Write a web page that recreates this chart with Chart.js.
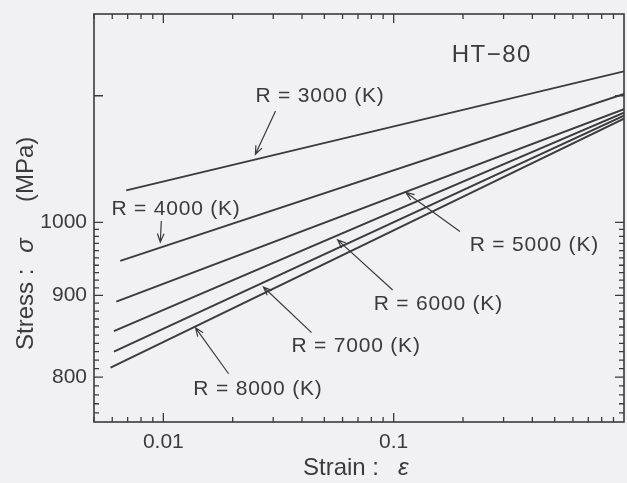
<!DOCTYPE html>
<html lang="en">
<head>
<meta charset="UTF-8">
<title>HT-80 stress-strain</title>
<script src="https://cdn.jsdelivr.net/npm/chart.js"></script>
<style>
  body { margin: 0; background: #f1f1f3; }
  canvas { display: block; }
</style>
</head>
<body>
<canvas id="ssChart" width="627" height="483"></canvas>
<script>
// curves: straight lines on log-log axes, one per R value
const seriesNames = ['R = 3000 (K)', 'R = 4000 (K)', 'R = 5000 (K)', 'R = 6000 (K)', 'R = 7000 (K)', 'R = 8000 (K)'];
const strainStart = [0.0069, 0.0065, 0.00625, 0.0061, 0.0061, 0.0059];
const stressStart = [1047, 946, 892, 855, 830, 811];
const strainEnd = [1, 1, 1, 1, 1, 1];
const stressEnd = [1243, 1203, 1177, 1171, 1166, 1161];

// callout text and arrows (data coordinates)
const labelStrain = [0.0251, 0.00595, 0.214, 0.0819, 0.036, 0.0135];
const labelStress = [1189, 1011, 960, 881, 830, 780];
const arrowTipStrain = [0.0251, 0.0097, 0.113, 0.0571, 0.0272, 0.0138];
const arrowTipStress = [1103, 972, 1044, 975, 911, 859];
const arrowTailStrain = [0.0307, 0.0098, 0.194, 0.099, 0.044, 0.0192];
const arrowTailStress = [1174, 1002, 987, 907, 853, 804];
const materialName = 'HT\u221280';
const materialAt = [0.1787, 1260];

// axes
const strainTicks = [0.005, 0.006, 0.007, 0.008, 0.009, 0.01, 0.02, 0.03, 0.04, 0.05, 0.06, 0.07, 0.08, 0.09,
  0.1, 0.2, 0.3, 0.4, 0.5, 0.6, 0.7, 0.8, 0.9];
const strainMajor = [0.01, 0.1];
const strainLabels = ['0.01', '0.1'];
const stressTicks = [760, 770, 780, 790, 800, 810, 820, 830, 840, 850, 860, 870, 880, 890, 900,
  910, 920, 930, 940, 950, 960, 970, 980, 990, 1000, 1200];
const stressMajor = [800, 900, 1000, 1200];
const stressLabels = ['800', '900', '1000', ''];

const ink = '#3b3b3d';
const fontFamily = '"Liberation Sans", Arial, sans-serif';

const frame = {
  id: 'frame',
  beforeDraw(chart) {
    const ctx = chart.ctx;
    ctx.save();
    ctx.fillStyle = '#f1f1f3';
    ctx.fillRect(0, 0, chart.width, chart.height);
    ctx.restore();
  },
  afterDatasetsDraw(chart) {
    const { ctx, chartArea: a, scales: { x, y } } = chart;
    ctx.save();
    ctx.strokeStyle = ink;
    ctx.lineWidth = 1.6;
    ctx.strokeRect(a.left, a.top, a.right - a.left, a.bottom - a.top);

    // inward ticks on all four sides
    ctx.lineWidth = 1.3;
    ctx.beginPath();
    strainTicks.forEach(v => {
      const px = x.getPixelForValue(v);
      const len = strainMajor.includes(v) ? 9 : 5;
      ctx.moveTo(px, a.bottom); ctx.lineTo(px, a.bottom - len);
      ctx.moveTo(px, a.top); ctx.lineTo(px, a.top + len);
    });
    stressTicks.forEach(v => {
      const py = y.getPixelForValue(v);
      const len = stressMajor.includes(v) ? 9 : 5;
      ctx.moveTo(a.left, py); ctx.lineTo(a.left + len, py);
      ctx.moveTo(a.right, py); ctx.lineTo(a.right - len, py);
    });
    ctx.stroke();

    // callouts
    ctx.fillStyle = ink;
    ctx.font = '21px ' + fontFamily;
    ctx.letterSpacing = '0.8px';
    ctx.textAlign = 'left';
    ctx.textBaseline = 'alphabetic';
    ctx.lineWidth = 1.2;
    seriesNames.forEach((name, i) => {
      ctx.fillText(name, x.getPixelForValue(labelStrain[i]), y.getPixelForValue(labelStress[i]));
      const x0 = x.getPixelForValue(arrowTailStrain[i]), y0 = y.getPixelForValue(arrowTailStress[i]);
      const x1 = x.getPixelForValue(arrowTipStrain[i]), y1 = y.getPixelForValue(arrowTipStress[i]);
      const ang = Math.atan2(y1 - y0, x1 - x0);
      ctx.beginPath();
      ctx.moveTo(x0, y0); ctx.lineTo(x1, y1);
      ctx.moveTo(x1 - 9 * Math.cos(ang - 0.38), y1 - 9 * Math.sin(ang - 0.38));
      ctx.lineTo(x1, y1);
      ctx.lineTo(x1 - 9 * Math.cos(ang + 0.38), y1 - 9 * Math.sin(ang + 0.38));
      ctx.stroke();
    });

    ctx.font = '24px ' + fontFamily;
    ctx.letterSpacing = '1.5px';
    ctx.fillText(materialName, x.getPixelForValue(materialAt[0]), y.getPixelForValue(materialAt[1]));
    ctx.letterSpacing = '0px';

    // axis titles with italic symbols
    ctx.font = '24px ' + fontFamily;
    const xs = 'Strain :';
    ctx.fillText(xs, 303, 475);
    ctx.font = 'italic 24px ' + fontFamily;
    ctx.fillText('\u03b5', 303 + ctx.measureText(xs).width + 19, 475);

    ctx.translate(33, 350);
    ctx.rotate(-Math.PI / 2);
    ctx.font = '24px ' + fontFamily;
    const ys = 'Stress :';
    let off = 0;
    ctx.fillText(ys, off, 0);
    off += ctx.measureText(ys).width + 16;
    ctx.font = 'italic 24px ' + fontFamily;
    ctx.fillText('\u03c3', off, 0);
    ctx.font = '24px ' + fontFamily;
    ctx.fillText('(MPa)', 148, 0);
    ctx.restore();
  }
};

const datasets = seriesNames.map((name, i) => ({
  label: name,
  data: [{ x: strainStart[i], y: stressStart[i] }, { x: strainEnd[i], y: stressEnd[i] }],
  borderColor: ink,
  borderWidth: 1.9,
  pointRadius: 0,
  fill: false,
  tension: 0
}));

new Chart(document.getElementById('ssChart'), {
  type: 'line',
  data: { datasets },
  options: {
    responsive: false,
    animation: false,
    layout: { padding: { top: 14, right: 3, left: 0, bottom: 0 } },
    plugins: { legend: { display: false }, tooltip: { enabled: false } },
    scales: {
      x: {
        type: 'logarithmic',
        min: 0.005,
        max: 1,
        grid: { display: false, drawTicks: false },
        border: { display: false },
        afterBuildTicks: s => { s.ticks = strainTicks.map(v => ({ value: v })); },
        afterFit: s => { s.height = 61; s.paddingLeft = 0; s.paddingRight = 0; },
        ticks: {
          autoSkip: false, maxRotation: 0, padding: 8, color: ink,
          font: { family: fontFamily, size: 21 },
          callback: v => { const k = strainMajor.indexOf(v); return k < 0 ? '' : strainLabels[k]; }
        }
      },
      y: {
        type: 'logarithmic',
        min: 750,
        max: 1350,
        grid: { display: false, drawTicks: false },
        border: { display: false },
        afterBuildTicks: s => { s.ticks = stressTicks.map(v => ({ value: v })); },
        afterFit: s => { s.width = 94; s.paddingTop = 0; s.paddingBottom = 0; },
        ticks: {
          autoSkip: false, padding: 7, color: ink,
          font: { family: fontFamily, size: 21 },
          callback: v => { const k = stressMajor.indexOf(v); return k < 0 ? '' : stressLabels[k]; }
        }
      }
    }
  },
  plugins: [frame]
});
</script>
</body>
</html>
